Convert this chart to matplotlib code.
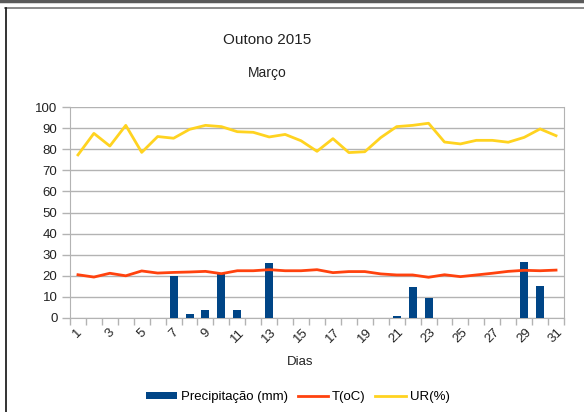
import matplotlib.pyplot as plt
from matplotlib.lines import Line2D
from matplotlib.ticker import FixedLocator, NullFormatter

plt.rcParams['font.family'] = ['Liberation Sans', 'DejaVu Sans']

# Daily data, March 2015
dias = list(range(1, 32))
precipitacao = [0.2, 0.2, 0, 0, 0, 0.2, 19.7, 2.0, 3.8, 21.2, 3.7, 0.2, 25.9, 0, 0, 0,
                0, 0, 0, 0.2, 1.0, 14.7, 9.6, 0, 0, 0, 0, 0, 26.4, 15.3, 0]
temperatura = [20.5, 19.4, 21.2, 20.0, 22.3, 21.3, 21.6, 21.8, 22.1, 21.0, 22.4, 22.4,
               22.9, 22.4, 22.4, 22.9, 21.5, 22.0, 22.0, 20.9, 20.4, 20.4, 19.3, 20.5,
               19.6, 20.4, 21.2, 22.1, 22.6, 22.4, 22.7]
umidade = [77.3, 87.5, 81.5, 91.3, 78.5, 86.0, 85.2, 89.4, 91.3, 90.7, 88.3, 88.0,
           85.8, 87.0, 84.0, 79.0, 85.0, 78.4, 78.8, 85.5, 90.7, 91.3, 92.3, 83.4,
           82.5, 84.2, 84.2, 83.3, 85.6, 89.6, 86.4]

fig = plt.figure(figsize=(5.84, 4.12), dpi=100)
W, H = 584, 412
ax = fig.add_axes([70 / W, 1 - 318 / H, (564 - 70) / W, (318 - 107) / H])

x = list(range(len(dias)))
bars = ax.bar(x, precipitacao, width=0.5, color='#004586', label='Precipitação (mm)', zorder=3)
lt, = ax.plot(x, temperatura, color='#ff420e', lw=2.0, label='T(oC)', zorder=4)
lu, = ax.plot(x, umidade, color='#ffd320', lw=2.0, label='UR(%)', zorder=4)

ax.set_xlim(-0.5, len(dias) - 0.5)
ax.set_ylim(0, 100)
ax.set_yticks(range(0, 101, 10))
ax.yaxis.grid(True, color='#b3b3b3', lw=1)
ax.set_axisbelow(True)

# labels on odd days, tick marks on category boundaries
ax.set_xticks(x[::2])
ax.set_xticklabels([str(d) for d in dias[::2]], rotation=45, ha='center', va='top')
ax.xaxis.set_minor_locator(FixedLocator([i - 0.5 for i in range(len(dias) + 1)]))
ax.xaxis.set_minor_formatter(NullFormatter())
ax.tick_params(axis='x', which='major', length=0, pad=6, labelsize=9.5, labelcolor='#222222')
ax.tick_params(axis='x', which='minor', length=5, color='#b3b3b3', width=1)
ax.tick_params(axis='y', length=6, color='#b3b3b3', width=1, labelsize=9.5,
               labelcolor='#222222', pad=3)

for s in ['left', 'bottom', 'right']:
    ax.spines[s].set_color('#b3b3b3')
ax.spines['top'].set_visible(False)

fig.text(267 / W, 1 - 40 / H, 'Outono 2015', ha='center', va='center', fontsize=11, color='#222222')
fig.text(267 / W, 1 - 73 / H, 'Março', ha='center', va='center', fontsize=10, color='#222222')
fig.text(300 / W, 1 - 362 / H, 'Dias', ha='center', va='center', fontsize=9.5, color='#222222')

ax.legend([bars, lt, lu], ['Precipitação (mm)', 'T(oC)', 'UR(%)'],
          loc='center', bbox_to_anchor=(298 / W, 1 - 397 / H), bbox_transform=fig.transFigure,
          ncol=3, frameon=False, fontsize=9.5, handlelength=2.3, handleheight=0.5,
          columnspacing=0.75, handletextpad=0.3)

# window frame around the chart
fig.add_artist(Line2D([0, 1], [1 - 1 / H, 1 - 1 / H], color='#5a5a5a', lw=2.5))
fig.add_artist(Line2D([5 / W, 1], [1 - 8 / H, 1 - 8 / H], color='#777777', lw=1.2))
fig.add_artist(Line2D([6 / W, 6 / W], [0, 1 - 8 / H], color='#111111', lw=1.2))

plt.savefig('out.png', dpi=100)
